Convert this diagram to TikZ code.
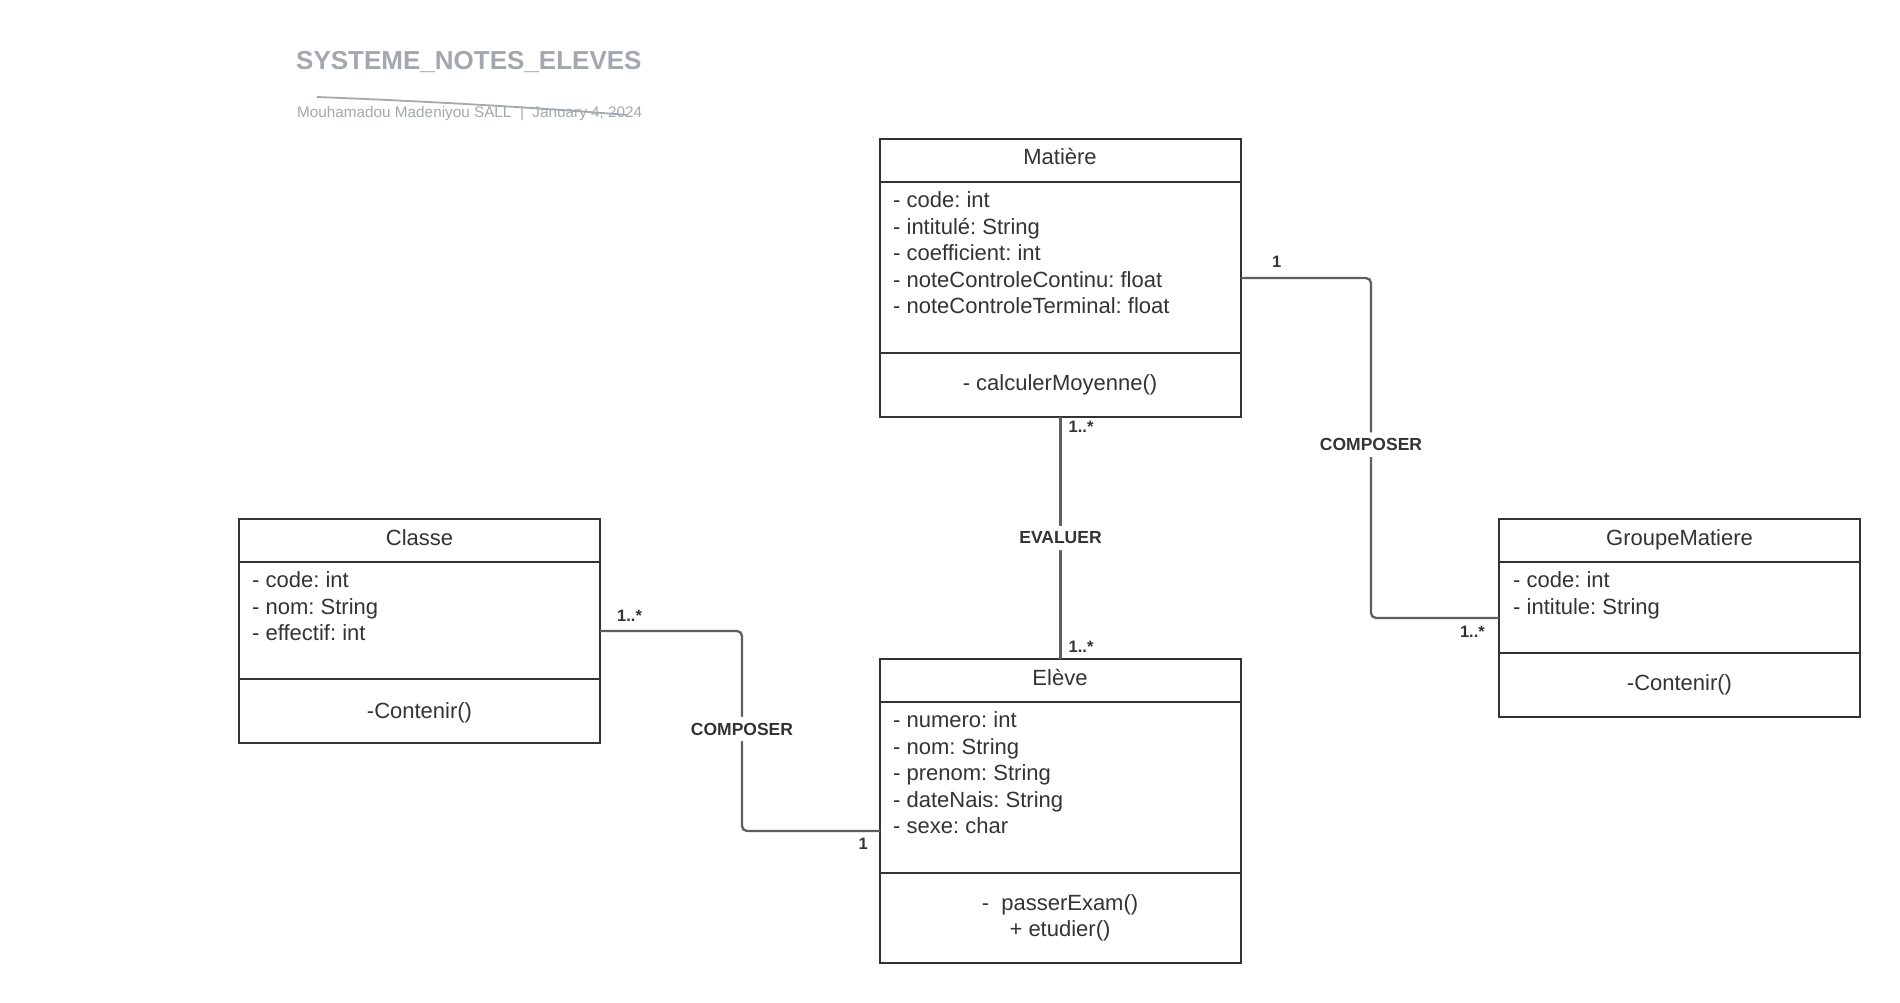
\documentclass[tikz,border=0pt]{standalone}
\usepackage{fontspec}
\setmainfont{Liberation Sans}
\usetikzlibrary{positioning}
\usetikzlibrary{calc}
\frenchspacing

\definecolor{boxgray}{HTML}{333333}
\definecolor{linegray}{HTML}{5F5F5F}
\definecolor{titlegray}{HTML}{A3A7B0}

\tikzset{
  classbox/.style={draw=boxgray, line width=2.5pt, inner sep=0pt, outer sep=0pt, minimum width=361pt, anchor=north west},
  classline/.style={draw=boxgray, line width=2.5pt},
  classname/.style={text=boxgray, font=\fontsize{22}{26}\selectfont, anchor=base, inner sep=0pt},
  attr/.style={text=boxgray, font=\fontsize{22}{26}\selectfont, anchor=base west, inner sep=0pt},
  assoc/.style={draw=linegray, line width=2.3pt, rounded corners=5pt},
  assoclabel/.style={fill=white, text=boxgray, font=\bfseries\fontsize{17.5}{20}\selectfont, inner xsep=2pt, inner ysep=6pt},
  mult/.style={text=boxgray, font=\bfseries\fontsize{16.5}{20}\selectfont, inner sep=0pt},
}

\begin{document}
\begin{tikzpicture}[x=1pt, y=-1pt]
\useasboundingbox (0,0) rectangle (1900,1003);

% title
\node[font=\bfseries\fontsize{26}{30}\selectfont, text=titlegray, anchor=base west, inner sep=0pt] (title) at (296,70) {SYSTEME\_NOTES\_ELEVES};
\node[font=\fontsize{15.3}{18}\selectfont, text=titlegray, anchor=base west, inner sep=0pt] (subtitle) at (297,118) {Mouhamadou Madeniyou SALL~~|~~January 4, 2024};
\draw[titlegray, line width=1.8pt] (317,97) .. controls (420,101) and (530,107) .. (627,115);

% Matiere
\node[classbox, minimum height=278pt] (matiere) at (880,139) {};
\draw[classline] (matiere.west |- 0,182) -- (matiere.east |- 0,182);
\draw[classline] (matiere.west |- 0,353) -- (matiere.east |- 0,353);
\node[classname] (matiere-name) at (1060,165) {Matière};
\node[attr] (matiere-a1) at (893,207.5) {- code: int};
\node[attr] (matiere-a2) at (893,234) {- intitulé: String};
\node[attr] (matiere-a3) at (893,260.5) {- coefficient: int};
\node[attr] (matiere-a4) at (893,287) {- noteControleContinu: float};
\node[attr] (matiere-a5) at (893,313.5) {- noteControleTerminal: float};
\node[classname] (matiere-m1) at (1060,390) {- calculerMoyenne()};

% Classe
\node[classbox, minimum height=224pt] (classe) at (239,519) {};
\draw[classline] (classe.west |- 0,562) -- (classe.east |- 0,562);
\draw[classline] (classe.west |- 0,679) -- (classe.east |- 0,679);
\node[classname] (classe-name) at (419.5,545) {Classe};
\node[attr] (classe-a1) at (252,587.5) {- code: int};
\node[attr] (classe-a2) at (252,614) {- nom: String};
\node[attr] (classe-a3) at (252,640.5) {- effectif: int};
\node[classname] (classe-m1) at (419.5,718) {-Contenir()};

% Eleve
\node[classbox, minimum height=304pt] (eleve) at (880,659) {};
\draw[classline] (eleve.west |- 0,702) -- (eleve.east |- 0,702);
\draw[classline] (eleve.west |- 0,873) -- (eleve.east |- 0,873);
\node[classname] (eleve-name) at (1060,685) {Elève};
\node[attr] (eleve-a1) at (893,727.5) {- numero: int};
\node[attr] (eleve-a2) at (893,754) {- nom: String};
\node[attr] (eleve-a3) at (893,780.5) {- prenom: String};
\node[attr] (eleve-a4) at (893,807) {- dateNais: String};
\node[attr] (eleve-a5) at (893,833.5) {- sexe: char};
\node[classname] (eleve-m1) at (1060,910.5) {-~ passerExam()};
\node[classname] (eleve-m2) at (1060,936.5) {+ etudier()};

% GroupeMatiere
\node[classbox, minimum height=198pt] (groupe) at (1499,519) {};
\draw[classline] (groupe.west |- 0,562) -- (groupe.east |- 0,562);
\draw[classline] (groupe.west |- 0,653) -- (groupe.east |- 0,653);
\node[classname] (groupe-name) at (1679.5,545) {GroupeMatiere};
\node[attr] (groupe-a1) at (1513,587.5) {- code: int};
\node[attr] (groupe-a2) at (1513,614) {- intitule: String};
\node[classname] (groupe-m1) at (1679.5,690) {-Contenir()};

% associations
\draw[assoc] (matiere.south) -- node[assoclabel] (evaluer) {EVALUER} (eleve.north);
\draw[assoc] (matiere.east) -- ++(130,0) |- node[assoclabel, pos=0.245] (composer-gm) {COMPOSER} (groupe.west);
\draw[assoc] (classe.east) -- ++(142,0) |- node[assoclabel, pos=0.245] (composer-cl) {COMPOSER} ($(eleve.west)+(0,20)$);

% multiplicities
\node[mult, anchor=base west] (mult-mat-gm) at ($(matiere.east)+(31,-11)$) {1};
\node[mult, anchor=base west] (mult-mat-el) at ($(matiere.south)+(8,15)$) {1..*};
\node[mult, anchor=base west] (mult-el-mat) at ($(eleve.north)+(8,-7)$) {1..*};
\node[mult, anchor=base west] (mult-cl-el) at ($(classe.east)+(17,-10)$) {1..*};
\node[mult, anchor=base east] (mult-el-cl) at ($(eleve.west)+(-12,38)$) {1};
\node[mult, anchor=base east] (mult-gm-mat) at ($(groupe.west)+(-14,19)$) {1..*};

\end{tikzpicture}
\end{document}
